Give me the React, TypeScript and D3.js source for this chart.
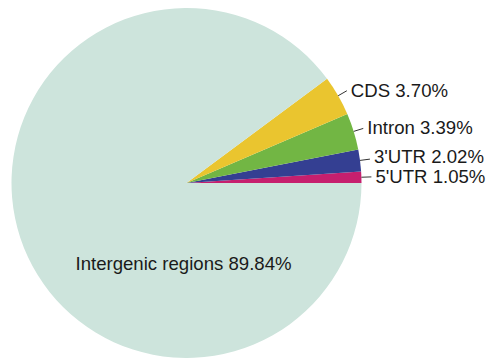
import React from "react";
import * as d3 from "d3";

const categories = ["5'UTR", "3'UTR", "Intron", "CDS", "Intergenic regions"];
const values = [1.05, 2.02, 3.39, 3.7, 89.84];
const colors = ["#c61f6e", "#343f92", "#72b644", "#eac52f", "#cde4dc"];

const W = 489;
const H = 358;
const cx = 186.5;
const cy = 183;
const R = 175;
const FS = 18.6;

export default function App() {
  const data = categories.map((c, i) => ({ name: c, value: values[i], color: colors[i] }));
  // angles: start at 3 o'clock going counter-clockwise
  const pie = d3
    .pie<any>()
    .value((d) => d.value)
    .sort(null)
    .startAngle(Math.PI / 2)
    .endAngle(Math.PI / 2 - 2 * Math.PI);
  const arcs = pie(data);
  const arc = d3.arc<any>().innerRadius(0).outerRadius(R);
  const fmt = (v: number) => v.toFixed(2) + "%";

  // outside labels with simple collision avoidance (from bottom upward)
  const outside = arcs
    .filter((a) => a.data.name !== "Intergenic regions")
    .map((a) => {
      const mid = (a.startAngle + a.endAngle) / 2;
      return {
        a,
        sx: Math.sin(mid) * R,
        sy: -Math.cos(mid) * R,
        ex: Math.sin(mid) * (R + 10),
        ey: -Math.cos(mid) * (R + 10),
        ty: -Math.cos(mid) * (R + 10),
      };
    })
    .sort((p, q) => q.ey - p.ey);
  for (let i = 1; i < outside.length; i++) {
    outside[i].ty = Math.min(outside[i].ty, outside[i - 1].ty - 20);
  }
  const inner = arcs.find((a) => a.data.name === "Intergenic regions")!;

  return (
    <svg
      width={W}
      height={H}
      style={{ position: "absolute", left: 0, top: 0 }}
      fontFamily="'Liberation Sans', Arial, sans-serif"
    >
      <rect width={W} height={H} fill="#fff" />
      <g transform={`translate(${cx},${cy})`}>
        {arcs.map((a, i) => (
          <path key={i} d={arc(a) as string} fill={a.data.color} />
        ))}
        <text x={-3} y={R * 0.46} textAnchor="middle" dominantBaseline="central" fontSize={FS} fill="#1a1a1a">
          {inner.data.name} {fmt(inner.data.value)}
        </text>
        {outside.map((o, i) => (
          <g key={"l" + i}>
            <line x1={o.sx} y1={o.sy} x2={o.ex} y2={o.ey} stroke="#333" strokeWidth={1} />
            <text x={o.ex + 4} y={o.ty - 0.5} dominantBaseline="central" fontSize={FS} fill="#1a1a1a">
              {o.a.data.name} {fmt(o.a.data.value)}
            </text>
          </g>
        ))}
      </g>
    </svg>
  );
}
